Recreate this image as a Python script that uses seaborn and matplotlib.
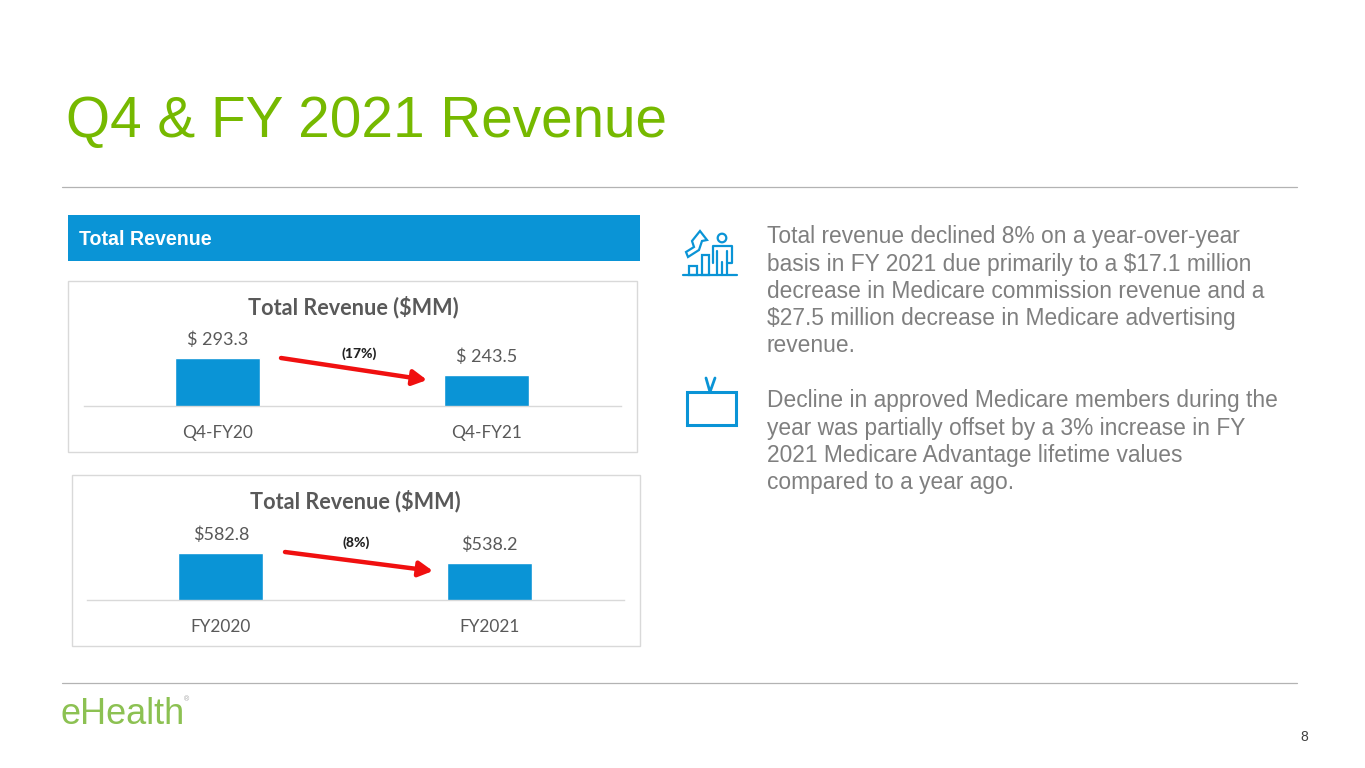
"""
Q4 and FY 2021 revenue slide: two small bar charts plus commentary text.
"""

import matplotlib
matplotlib.use("Agg")
import matplotlib.pyplot as plt
import pandas as pd
import seaborn as sns
from matplotlib.patches import Rectangle, Circle, Polygon

# Data
q4_periods = ["Q4-FY20", "Q4-FY21"]
q4_revenue = [293.3, 243.5]
q4_labels = ["$ 293.3", "$ 243.5"]
q4_change = "(17%)"

fy_periods = ["FY2020", "FY2021"]
fy_revenue = [582.8, 538.2]
fy_labels = ["$582.8", "$538.2"]
fy_change = "(8%)"

chart_title = "Total Revenue ($MM)"
slide_title = "Q4 & FY 2021 Revenue"
banner_text = "Total Revenue"
comment_1 = ["Total revenue declined 8% on a year-over-year",
             "basis in FY 2021 due primarily to a $17.1 million",
             "decrease in Medicare commission revenue and a",
             "$27.5 million decrease in Medicare advertising",
             "revenue."]
comment_2 = ["Decline in approved Medicare members during the",
             "year was partially offset by a 3% increase in FY",
             "2021 Medicare Advantage lifetime values",
             "compared to a year ago."]

# Colours
BLUE = "#0a94d6"
GREEN = "#76b900"
GREY_TEXT = "#7f7f7f"
CHART_TEXT = "#595959"
RULE = "#b3b3b3"
FRAME = "#d9d9d9"
W, H = 1365, 768

sns.set_theme(style="white")
plt.rcParams["font.family"] = ["Liberation Sans", "DejaVu Sans"]

fig = plt.figure(figsize=(W / 100, H / 100), dpi=100, facecolor="white")

# Full-slide overlay in pixel coordinates for everything around the charts
bg = fig.add_axes([0, 0, 1, 1], zorder=0)
bg.set_xlim(0, W)
bg.set_ylim(H, 0)
bg.axis("off")

bg.text(66, 122, slide_title, fontsize=40.9, color=GREEN, va="center", ha="left")
bg.plot([62, 1297], [187, 187], color=RULE, lw=0.9)
bg.plot([62, 1297], [683, 683], color=RULE, lw=0.9)

bg.add_patch(Rectangle((68, 215), 572, 46, color=BLUE, lw=0))
bg.text(79, 239.5, banner_text, fontsize=14.1, fontweight="bold", color="white", va="center")

for i, line in enumerate(comment_1):
    bg.text(767, 237 + i * 27.2, line, fontsize=16.35, color=GREY_TEXT, va="center")
for i, line in enumerate(comment_2):
    bg.text(767, 401 + i * 27.2, line, fontsize=16.35, color=GREY_TEXT, va="center")

bg.text(61, 714, "eHealth", fontsize=26, color="#8cc152", va="center")
bg.text(187, 700, "®", fontsize=5, color="#a0a0a0", va="center", ha="center")
bg.text(1308, 737, "8", fontsize=10, color="#404040", va="center", ha="right")

# Icon: chart with person
icon_kw = dict(color=BLUE, lw=1.6, solid_capstyle="round", solid_joinstyle="round")
bg.plot([683, 737], [275, 275], **icon_kw)
bg.add_patch(Rectangle((689, 266), 8, 9, fill=False, ec=BLUE, lw=1.6))
bg.add_patch(Rectangle((702, 255), 7, 20, fill=False, ec=BLUE, lw=1.6))
bg.add_patch(Circle((722, 238), 4.3, fill=False, ec=BLUE, lw=1.6))
bg.plot([717, 713, 713], [246, 246, 263], **icon_kw)
bg.plot([717, 732, 732, 727], [246, 246, 263, 263], **icon_kw)
bg.plot([717, 717], [251, 275], **icon_kw)
bg.plot([727, 727], [251, 275], **icon_kw)
bg.plot([722, 722], [262, 275], **icon_kw)
bg.add_patch(Polygon([(686, 252), (694, 247), (692, 241), (700, 231), (707, 240),
                      (702, 241), (699, 250), (688, 257)], closed=True, fill=False, ec=BLUE, lw=1.6))

# Icon: tv
bg.add_patch(Rectangle((687, 392), 49, 33, fill=False, ec=BLUE, lw=2.2))
bg.plot([706, 710, 715], [378, 392, 378], color=BLUE, lw=2, solid_capstyle="round")


def draw_chart(frame, title_x, base_y, x0, periods, revenue, labels, change, arrow, change_xy, y_floor, per_px):
    """frame is (left, top, right, bottom) in slide pixels, base_y the bar baseline."""
    left, top, right, bottom = frame
    bg.add_patch(Rectangle((left, top), right - left, bottom - top, fill=False, ec=FRAME, lw=1))
    bg.text(title_x, top + 26, chart_title, fontsize=15.6, fontweight="bold",
            color=CHART_TEXT, family="Lato", ha="center", va="center")

    ax = fig.add_axes([x0 / W, 1 - base_y / H, 537 / W, 66 / H], zorder=1)
    ax.patch.set_alpha(0)
    df = pd.DataFrame({"period": periods, "revenue": revenue})
    sns.barplot(data=df, x="period", y="revenue", color=BLUE, saturation=1, width=0.316, ax=ax)
    ax.set_ylim(y_floor, y_floor + 66 * per_px)
    ax.bar_label(ax.containers[0], labels=labels, padding=7, fontsize=13,
                 color=CHART_TEXT, family="Lato")
    ax.set_xlabel("")
    ax.set_ylabel("")
    ax.set_yticks([])
    ax.tick_params(axis="x", length=0, pad=13.5, labelsize=12.4, labelcolor=CHART_TEXT)
    for lab in ax.get_xticklabels():
        lab.set_family("Lato")
    sns.despine(ax=ax, left=True)
    ax.spines["bottom"].set_color(FRAME)
    ax.spines["bottom"].set_linewidth(1)

    bg.annotate("", xy=arrow[1], xytext=arrow[0], zorder=5, annotation_clip=False,
                arrowprops=dict(arrowstyle="-|>,head_length=0.7,head_width=0.38", color="#f01010",
                                lw=3.2, shrinkA=0, shrinkB=0))
    bg.text(change_xy[0], change_xy[1], change, fontsize=10, fontweight="black", color="#222222",
            family="Lato", ha="center", va="center")
    return ax


draw_chart((68, 281, 637, 452), 353.5, 406, 83.5, q4_periods, q4_revenue, q4_labels, q4_change,
           ((281, 358), (427, 380)), (359, 354), 153.5, 2.91)
draw_chart((72, 475, 640, 646), 355.5, 600, 86.5, fy_periods, fy_revenue, fy_labels, fy_change,
           ((285, 552), (433, 571)), (356, 543), 375.0, 4.42)

fig.savefig("out.png", dpi=100)
